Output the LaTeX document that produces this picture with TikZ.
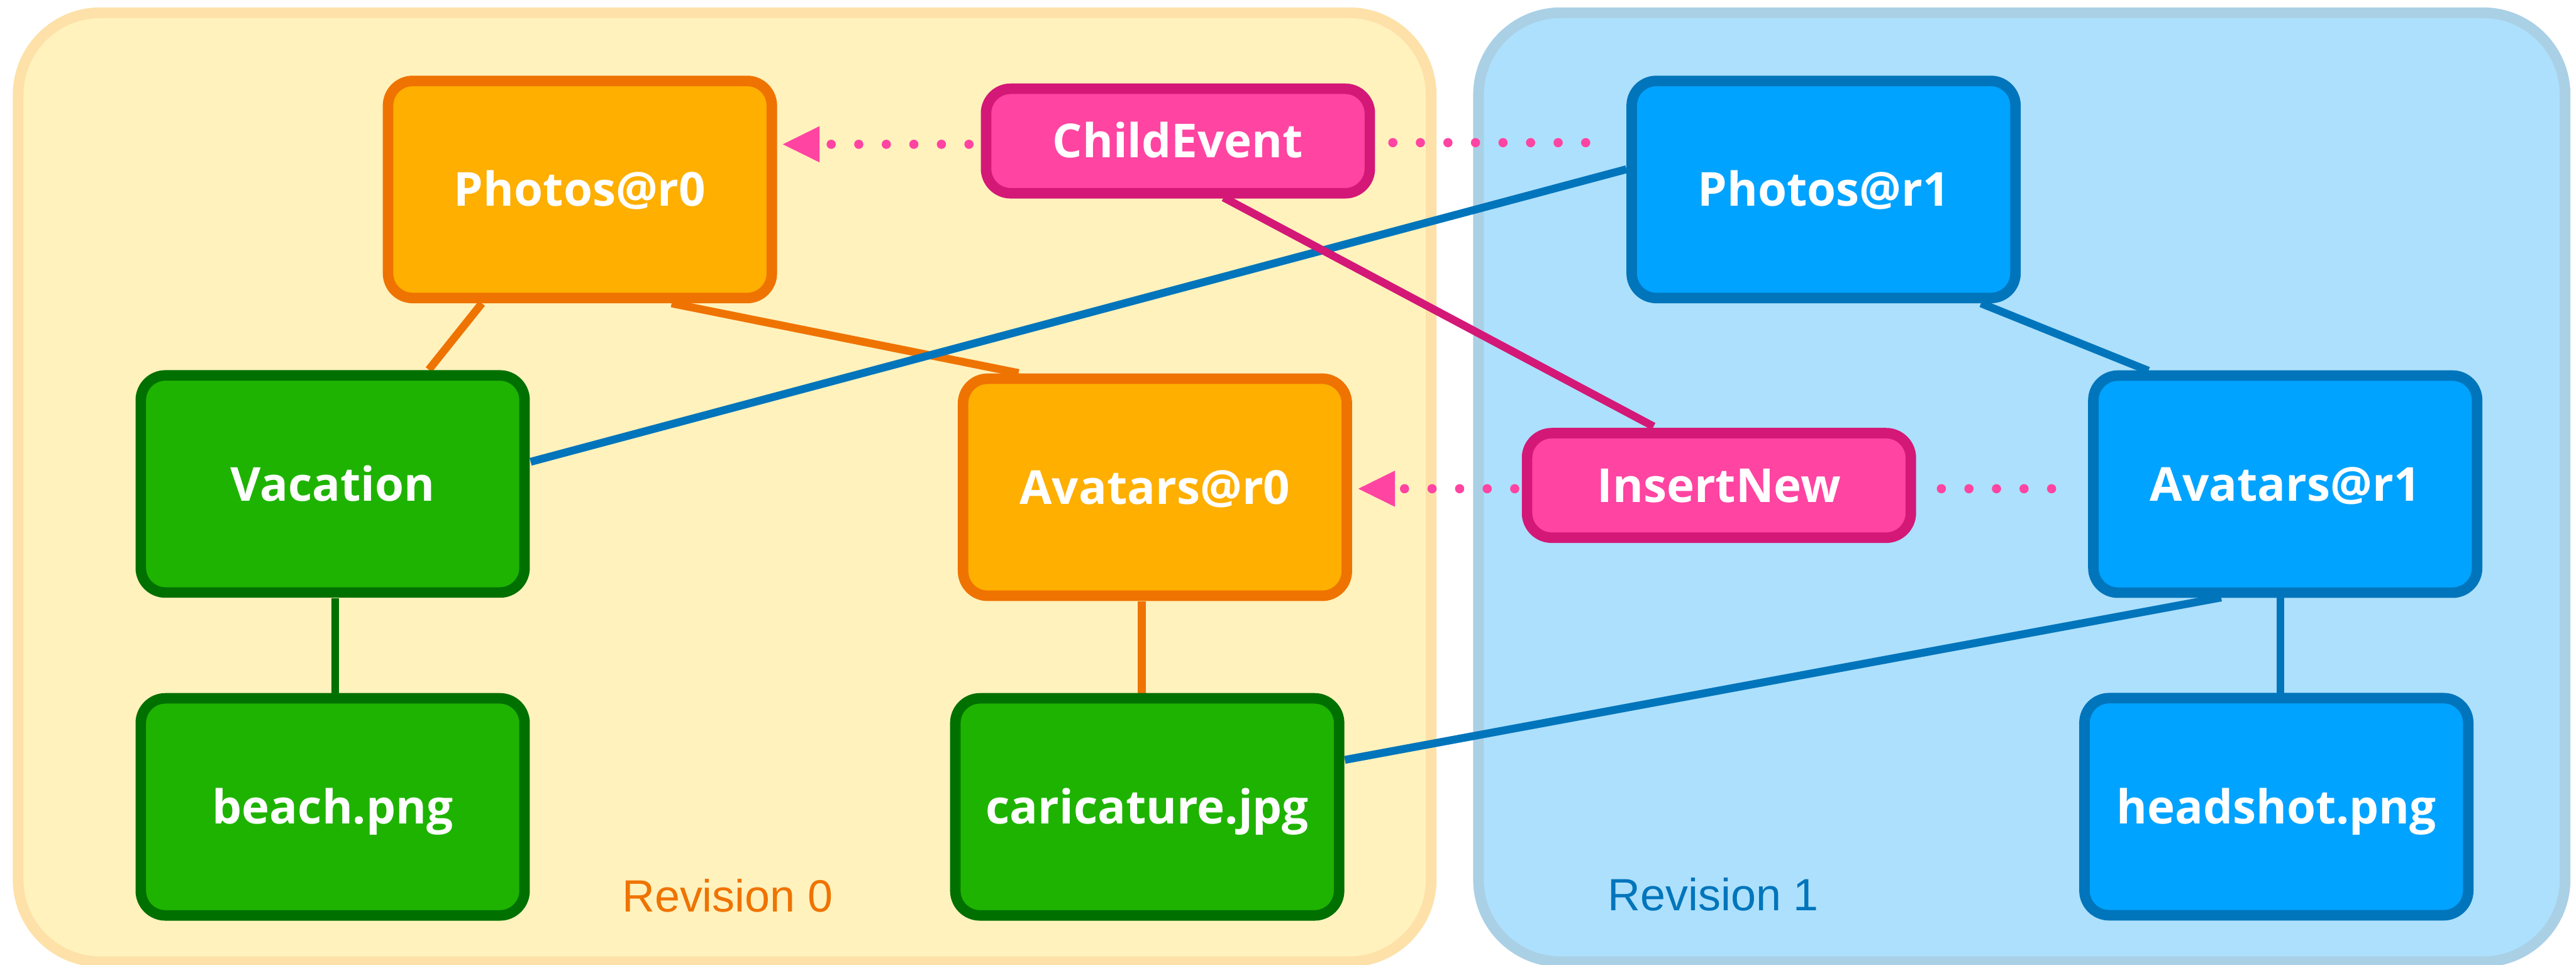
\documentclass[tikz,border=0pt]{standalone}
\usepackage{fontspec}
\setmainfont{Open Sans}
\newfontfamily\revfont{Liberation Sans}
\usetikzlibrary{arrows.meta}

\definecolor{revAfill}{HTML}{FFF2BD}
\definecolor{revAline}{HTML}{FDE1A8}
\definecolor{revBfill}{HTML}{ADE0FC}
\definecolor{revBline}{HTML}{AAD0E6}
\definecolor{dirfill}{HTML}{FEAF00}
\definecolor{dirline}{HTML}{EF7300}
\definecolor{filefill}{HTML}{1EB300}
\definecolor{fileline}{HTML}{007000}
\definecolor{newfill}{HTML}{00A3FF}
\definecolor{newline}{HTML}{0075BB}
\definecolor{evfill}{HTML}{FF44A2}
\definecolor{evline}{HTML}{D41877}

\pgfdeclarelayer{panels}
\pgfdeclarelayer{links}
\pgfsetlayers{panels,links,main}

\tikzset{
  panel/.style={rectangle, rounded corners=50pt, line width=6.5pt,
    minimum width=#1, minimum height=577.5pt, inner sep=0pt},
  box/.style={rectangle, rounded corners=15pt, line width=6.4pt,
    minimum width=233.6pt, minimum height=132.1pt, inner sep=0pt,
    text=white, font=\bfseries\fontsize{28.5}{30}\selectfont,
    text height=20.5pt, text depth=0pt},
  evbox/.style={box, minimum height=63.6pt, fill=evfill, draw=evline},
  dirbox/.style={box, fill=dirfill, draw=dirline},
  filebox/.style={box, fill=filefill, draw=fileline},
  newbox/.style={box, fill=newfill, draw=newline},
  link/.style={line width=4.8pt},
  dotlink/.style={draw=evfill, line width=5.6pt, line cap=round,
    dash pattern=on 0pt off 16.77pt},
  revlabel/.style={anchor=base west, inner sep=0pt,
    font=\revfont\fontsize{27.5}{28}\selectfont},
}

\begin{document}
\begin{tikzpicture}[x=1pt, y=-1pt]
\useasboundingbox (0,0) rectangle (1568,587);

% revision panels
\begin{pgfonlayer}{panels}
  \node[panel=860.1pt, fill=revAfill, draw=revAline] (rev0) at (441.1,296.5) {};
  \node[panel=661.4pt, fill=revBfill, draw=revBline] (rev1) at (1230.65,296.5) {};
\end{pgfonlayer}
\node[revlabel, text=dirline] (rev0label) at (378.5,555) {Revision 0};
\node[revlabel, text=newline] (rev1label) at (978.5,554.3) {Revision 1};

% tree nodes
\node[dirbox]  (p0)    at (353,115.3)    {Photos@r0};
\node[evbox]   (ce)    at (717,85.8)     {ChildEvent};
\node[newbox]  (p1)    at (1110,115.3)   {Photos@r1};
\node[filebox] (vac)   at (202.5,294.5)  {Vacation};
\node[dirbox]  (a0)    at (703,296.5)    {Avatars@r0};
\node[evbox]   (ins)   at (1046.3,295.4) {InsertNew};
\node[newbox]  (a1)    at (1391,294.6)   {Avatars@r1};
\node[filebox] (beach) at (202.5,491)    {beach.png};
\node[filebox] (car)   at (698.3,491)    {caricature.jpg};
\node[newbox]  (head)  at (1385.6,490.9) {headshot.png};

\begin{pgfonlayer}{links}
  % revision 0 tree
  \draw[link, dirline] ([shift={(-59.7,69.3)}]p0.center) -- ([shift={(58.5,-69.5)}]vac.center);
  \draw[link, dirline] ([shift={(55.8,69.3)}]p0.center) -- ([shift={(-83,-69.5)}]a0.center);
  \draw[link, dirline] ([shift={(-8,69.5)}]a0.center) -- ([shift={(-3.3,-69.3)}]car.center);
  \draw[link, fileline] ([shift={(1.5,69.5)}]vac.center) -- ([shift={(1.5,-69)}]beach.center);
  % revision 1 tree
  \draw[link, newline] ([shift={(-120,-12.3)}]p1.center) -- ([shift={(120.5,-13.5)}]vac.center);
  \draw[link, newline] ([shift={(95.8,69.3)}]p1.center) -- ([shift={(-83.3,-69)}]a1.center);
  \draw[link, newline] ([shift={(-3,69)}]a1.center) -- ([shift={(2.4,-69)}]head.center);
  \draw[link, newline] ([shift={(-39,69)}]a1.center) -- ([shift={(120.3,-28.6)}]car.center);
  % events
  \draw[link, evline] ([shift={(27.8,34.4)}]ce.center) -- ([shift={(-39.8,-35.9)}]ins.center);
  \draw[dotlink, shorten <=10.8pt, shorten >=12pt]
    ([yshift=-1pt]ce.east) -- ([yshift=-1pt]ce.east -| p1.west);
  \draw[dotlink, shorten <=7.2pt, shorten >=3.5pt,
        -{Triangle[length=22.3pt, width=22pt, line width=0pt]}]
    ([yshift=-2pt]ce.west) -- ([yshift=-2pt]ce.west -| p0.east);
  \draw[dotlink, shorten <=15.4pt, shorten >=10pt]
    ([yshift=-2pt]ins.east) -- ([yshift=-2pt]ins.east -| a1.west);
  \draw[dotlink, shorten <=4.3pt, shorten >=3.8pt,
        -{Triangle[length=22.3pt, width=22pt, line width=0pt]}]
    ([yshift=-2pt]ins.west) -- ([yshift=-2pt]ins.west -| a0.east);
\end{pgfonlayer}
\end{tikzpicture}
\end{document}
